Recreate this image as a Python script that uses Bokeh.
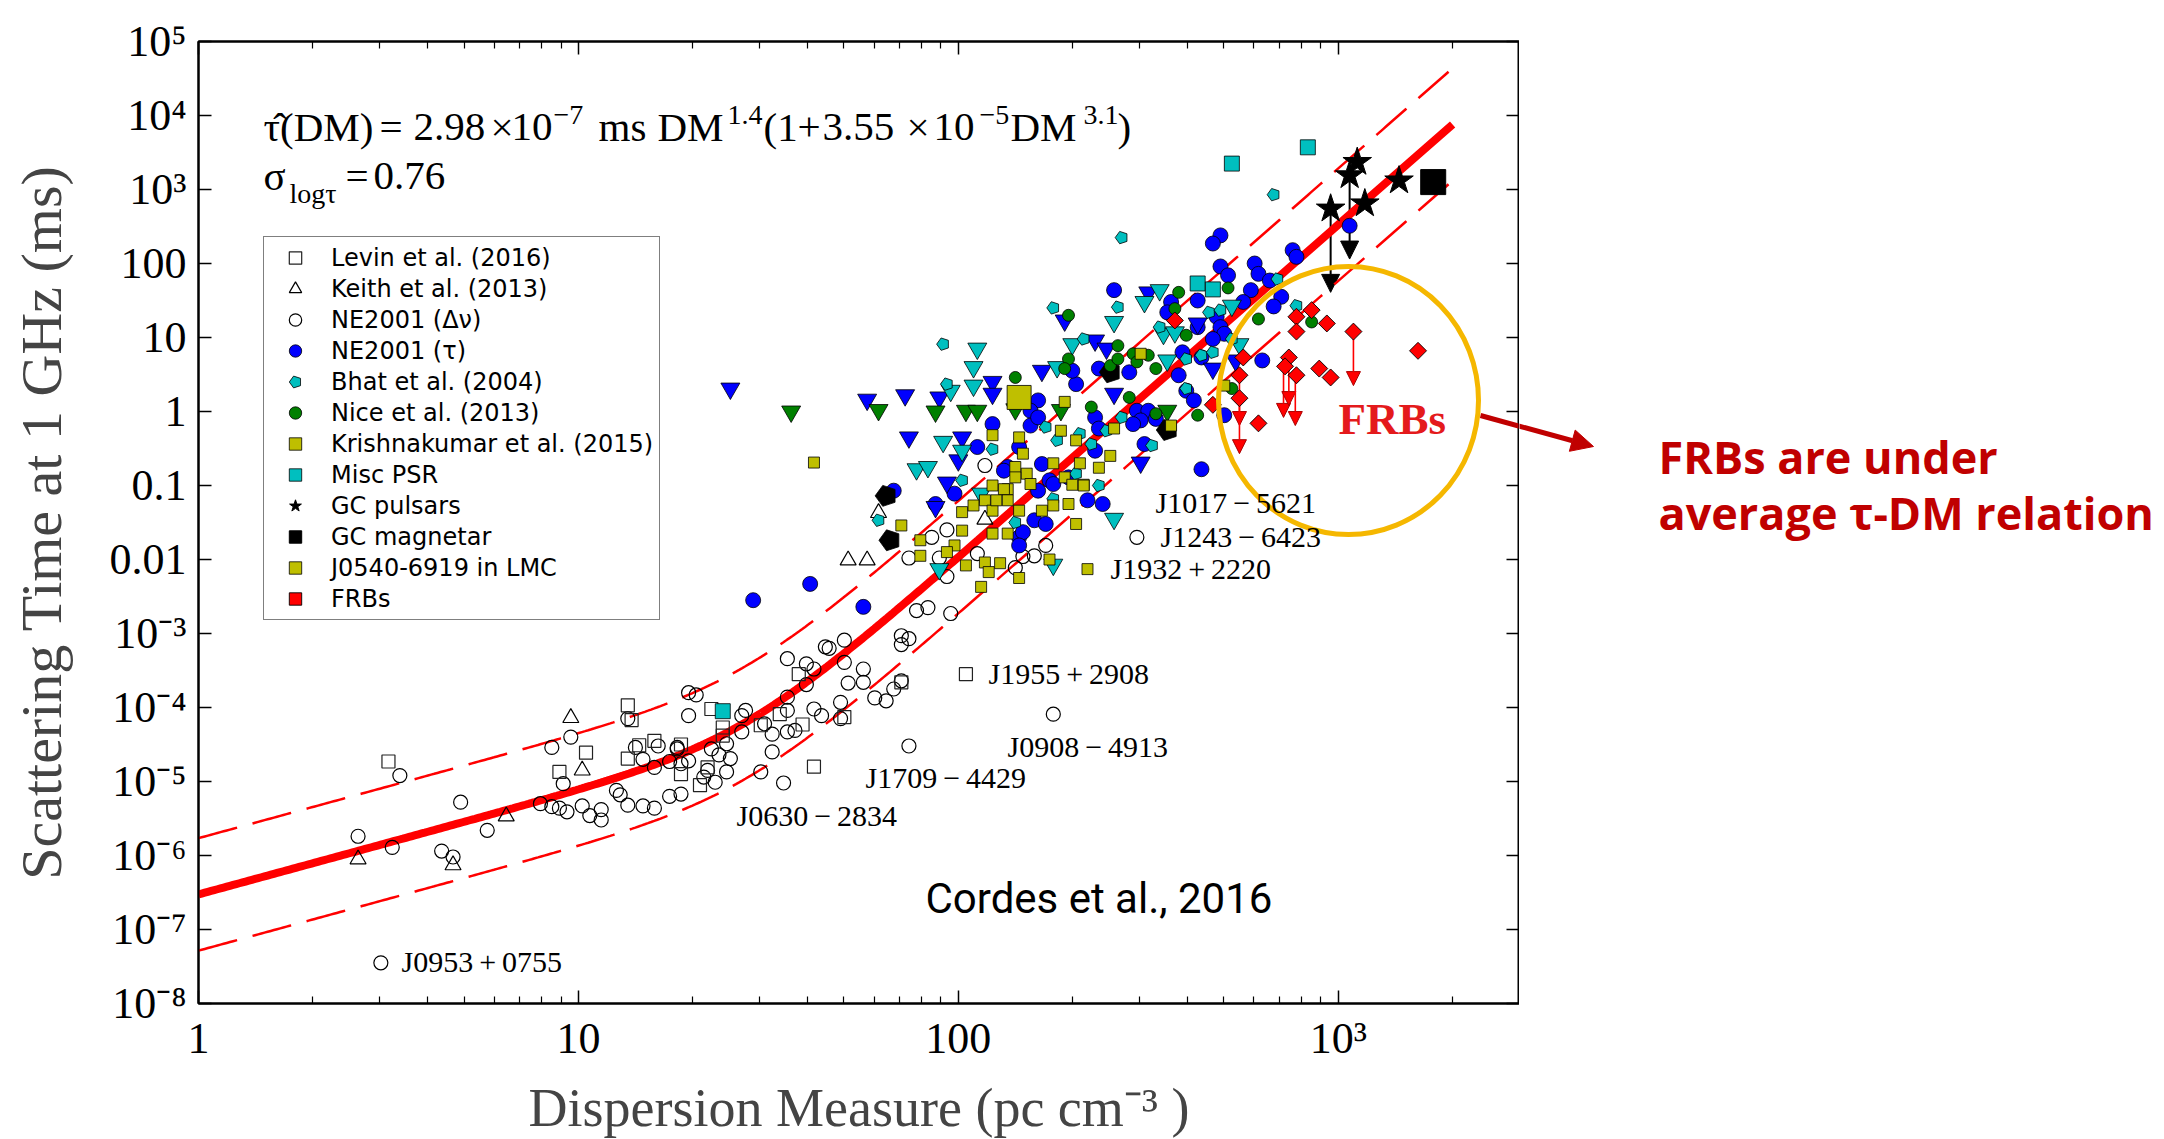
import json
import numpy as np
from bokeh.plotting import figure
from bokeh.layouts import row
from bokeh.models import (Range1d, FixedTicker, LogAxis, CustomJSTickFormatter, Legend,
                          LegendItem, Label, Arrow, NormalHead, ColumnDataSource)
from bokeh.embed import file_html
from bokeh.resources import INLINE

# ---------------- data: log10(DM / pc cm^-3), log10(tau_1GHz / ms) -------------
dnu_logdm = [0.42, 0.51, 0.53, 0.64, 0.67, 0.69, 0.76, 0.48,
             0.90, 0.93, 0.93, 0.95, 0.96, 0.97, 0.98, 1.01, 1.03, 1.06, 1.06, 1.10, 1.11, 1.13, 1.13, 1.15,
             1.17, 1.17, 1.20, 1.20, 1.21, 1.24, 1.24, 1.26, 1.27, 1.27, 1.29, 1.29, 1.31,
             1.26, 1.29, 1.35, 1.37, 1.34, 1.33, 1.36, 1.39, 1.40, 1.39, 1.43, 1.44, 1.43, 1.48, 1.49, 1.51,
             1.51, 1.54, 1.55, 1.55, 1.55, 1.55, 1.57, 1.60, 1.62, 1.60, 1.62, 1.64, 1.66, 1.70, 1.70, 1.71,
             1.69, 1.69, 1.75, 1.75, 1.78, 1.81, 1.83, 1.85, 1.85, 1.87, 1.85, 1.89, 1.92, 1.98, 1.87,
             1.97, 1.93, 1.87, 1.95, 2.05, 1.97, 2.17, 2.20, 2.23, 2.15, 1.65, 2.25, 2.47, 2.07]
dnu_logtau = [-5.74, -5.89, -4.92, -5.94, -6.02, -5.28, -5.66, -7.45,
              -5.30, -4.54, -5.34, -5.36, -5.03, -5.41, -4.40, -5.33, -5.46, -5.38, -5.52, -5.12, -5.18, -5.32,
              -4.15, -4.54, -5.33, -4.70, -4.81, -5.36, -4.52, -4.73, -5.20, -4.56, -5.17, -4.76, -4.11, -3.80,
              -3.83,
              -4.54, -4.72, -4.56, -4.64, -4.85, -4.94, -5.01, -4.49, -4.69, -4.87, -4.11, -4.04, -4.33, -4.87,
              -4.22, -4.60, -4.36, -5.02, -3.34, -3.86, -4.04, -4.33, -4.31, -3.41, -3.48, -3.69, -4.02, -4.11,
              -3.20, -3.09, -3.39, -3.67, -3.93, -4.15, -3.48, -3.66, -3.87, -3.91, -3.75, -3.64, -3.03, -3.07,
              -3.15, -2.69, -2.65, -2.73, -4.52,
              -1.60, -1.70, -1.98, -1.98, -1.92, -2.23, -1.96, -1.95, -1.81, -2.11, -3.18, -4.09, -1.70, -0.73]

levin_logdm = [0.50, 0.95, 1.02, 1.13, 1.14, 1.16, 1.13, 1.20, 1.27, 1.27, 1.32, 1.34, 1.38, 1.35, 1.38,
               1.53, 1.48, 1.59, 1.58, 1.70, 1.85, 1.62, 2.02]
levin_logtau = [-4.73, -4.87, -4.61, -3.97, -4.17, -4.51, -4.69, -4.45, -4.50, -4.90, -5.05, -4.81, -4.38,
                -4.02, -4.27, -4.09, -4.24, -4.23, -3.55, -4.13, -3.66, -4.80, -3.55]

keith_logdm = [0.42, 0.67, 0.81, 0.98, 1.01, 1.71, 1.76, 1.79, 2.07]
keith_logtau = [-6.05, -6.13, -5.47, -4.14, -4.85, -2.01, -2.01, -1.37, -1.46]

tau_logdm = [2.69, 2.67, 2.41, 2.69, 2.71, 2.78, 2.79, 2.82, 2.85, 2.88, 2.89, 2.77, 2.75, 2.83, 2.56, 2.63,
             2.55, 2.68, 2.69, 2.70, 2.63, 2.67, 2.59, 2.64, 2.80, 2.58, 2.45, 2.37, 2.31, 2.30, 2.60, 2.62,
             2.47, 2.50, 2.48, 2.52, 2.46, 2.49, 2.64, 2.70, 2.36, 2.37, 2.21, 2.19, 2.19, 2.21, 2.09, 2.05,
             1.99, 2.13, 2.12, 2.22, 2.24, 2.21, 2.29, 2.36, 2.16, 1.83,
             1.94, 2.16, 2.17, 2.20, 2.23, 2.25, 2.34, 2.38, 2.16, 1.46, 1.61, 1.75, 3.03]
tau_logtau = [2.38, 2.27, 1.64, 1.96, 1.84, 2.00, 1.86, 1.77, 1.55, 2.18, 2.09, 1.64, 1.48, 1.42, 1.48, 1.50,
              1.34, 1.28, 1.14, 1.05, 1.14, 0.98, 0.80, 0.73, 0.69, 0.49, 0.53, 0.58, 0.37, 0.55, 0.28, 0.15,
              0.01, 0.01, -0.12, -0.10, -0.17, -0.44, -0.78, -0.05, -0.08, -0.23, 0.15, 0.01, -0.19, -0.08,
              -0.17, -0.48, -1.11, -0.75, -0.80, -0.71, -0.93, -1.07, -0.89, -0.53, -0.48, -1.07,
              -1.25, -1.70, -1.63, -1.47, -1.52, -0.98, -1.20, -1.25, -1.81, -2.55, -2.33, -2.64, 2.51]

tau_ul_logdm = [1.40, 1.76, 1.86, 1.95, 2.09, 2.09, 2.22, 1.87, 2.01, 2.00, 1.97, 2.36, 2.39, 2.41, 2.48,
                2.50, 2.63, 2.73, 2.28, 2.67, 1.94]
tau_ul_logtau = [0.31, 0.16, 0.22, 0.19, 0.40, 0.24, 0.55, -0.35, -0.35, -0.66, -0.96, 0.96, 0.85, 0.24,
                 -0.69, 1.61, 1.19, 0.69, 1.23, 0.58, -1.29]

nice_ul_logdm = [1.56, 1.79, 1.94, 2.02, 2.05, 2.15, 2.27, 2.55]
nice_ul_logtau = [0.00, 0.02, 0.00, 0.01, 0.01, 0.03, 0.02, 0.01]

bhat_ul_logdm = [2.05, 2.04, 2.04, 1.98, 2.41, 2.49, 2.53, 2.30, 2.26, 1.96, 2.01, 1.89, 1.92, 2.55, 2.54,
                 2.57, 2.72, 2.74, 2.06, 1.95, 2.41, 2.25]
bhat_ul_logtau = [0.85, 0.60, 0.35, 0.28, 1.21, 1.48, 1.64, 0.91, 0.60, -0.41, -0.53, -0.78, -0.75, 0.69,
                  1.05, 1.07, 1.43, 0.91, -1.11, -2.13, -1.45, -2.07]

bhat_logdm = [2.83, 2.43, 2.25, 2.42, 1.96, 1.97, 2.33, 2.84, 2.53, 2.66, 2.69, 2.72, 2.60, 2.64, 2.67, 2.60,
              2.43, 2.51, 2.39, 2.23, 2.26, 2.32, 2.35, 2.31, 2.37, 2.09, 2.01, 1.79, 2.15, 2.25, 2.89]
bhat_logtau = [2.93, 2.35, 1.40, 1.41, 0.91, 0.37, 0.98, 1.79, 1.14, 1.34, 1.37, 0.98, 0.71, 0.76, 0.80, 0.31,
               -0.08, -0.46, -0.26, -0.21, -0.39, -0.30, -0.44, -0.84, -1.00, -0.51, -0.93, -1.47, -1.50,
               -1.18, 1.43]

nice_logdm = [2.58, 2.71, 2.29, 2.57, 2.60, 2.42, 2.46, 2.50, 2.29, 2.40, 2.42, 2.47, 2.52, 2.15, 2.28, 2.45,
              2.35, 2.63, 2.72, 2.79, 2.52, 2.93]
nice_logtau = [1.61, 1.67, 1.30, 1.39, 1.03, 0.89, 0.78, 0.76, 0.71, 0.62, 0.71, 0.67, 0.58, 0.46, 0.58, 0.19,
               0.06, -0.05, 0.31, 1.25, -0.03, 1.21]

krish_logdm = [1.62, 2.48, 2.28, 2.41, 2.56, 2.09, 2.16, 2.27, 2.31, 2.17, 2.25, 2.32, 2.37, 2.40, 2.15, 2.18,
               2.28, 2.09, 2.13, 2.33, 2.30, 2.70, 1.85, 1.90, 1.90, 1.99, 1.97, 2.01, 2.01, 2.04, 2.07, 2.09,
               2.12, 2.13, 2.16, 2.19, 2.22, 2.25, 2.29, 2.33, 2.31, 2.13, 2.09, 2.02, 2.07, 2.08, 2.11, 2.16,
               2.06, 2.24, 2.34, 2.10, 2.15]
krish_logtau = [-0.69, 0.78, 0.13, -0.23, -0.19, -0.32, -0.35, -0.26, -0.39, -0.57, -0.70, -0.70, -0.76, -0.60,
                -0.75, -0.84, -0.89, -1.00, -1.05, -0.99, -0.99, 0.35, -1.54, -1.74, -1.95, -1.81, -1.90, -1.61,
                -1.36, -1.27, -1.20, -1.34, -1.05, -1.20, -1.34, -0.98, -1.34, -1.27, -1.25, -1.00, -1.52,
                -1.65, -1.65, -2.08, -2.04, -2.17, -2.05, -2.25, -2.37, -2.00, -2.13, -1.20, -0.89]

misc_logdm = [1.38, 2.72, 2.92, 2.63, 2.67]
misc_logtau = [-4.05, 3.35, 3.57, 1.73, 1.65]

gcpsr_logdm = [2.98, 3.03, 3.05, 3.07, 3.16]
gcpsr_logtau = [2.74, 3.19, 3.37, 2.81, 3.12]

magnetar_logdm = [3.25]
magnetar_logtau = [3.10]

lmc_logdm = [2.16]
lmc_logtau = [0.19]

blackpent_logdm = [1.81, 1.82, 2.40, 2.55]
blackpent_logtau = [-1.14, -1.74, 0.53, -0.25]

frb_logdm = [2.57, 2.89, 2.93, 2.97, 2.89, 3.04, 3.21, 2.75, 2.74, 2.74, 2.79, 2.87, 2.86, 2.89, 2.95, 2.98, 2.67]
frb_logtau = [1.23, 1.28, 1.37, 1.19, 1.08, 1.08, 0.82, 0.73, 0.49, 0.18, -0.16, 0.73, 0.61, 0.49, 0.58, 0.46, 0.09]

# upper-limit arrows (log DM, log tau start, log tau end)
gc_arrow_logdm = [2.98, 3.03]
gc_arrow_from = [2.74, 3.19]
gc_arrow_to = [1.61, 2.06]
frb_arrow_logdm = [2.74, 2.74, 2.856, 2.87, 2.887, 3.04]
frb_arrow_from = [0.49, 0.18, 0.61, 0.73, 0.49, 1.08]
frb_arrow_to = [-0.19, -0.57, -0.08, 0.08, -0.19, 0.35]

# fitted relation (from the equation printed on the chart)
FIT_A, FIT_P, FIT_B, FIT_Q = 2.98e-7, 1.4, 3.55e-5, 3.1
FIT_SIGMA = 0.76
FIT_DM_MAX = 2000.0

x_ticks = [1, 10, 100, 1000]
x_tick_labels = ["1", "10", "100", "10³"]
x_minor = [m * d for d in (1, 10, 100) for m in range(2, 10)] + [2000]
y_ticks = [10.0 ** k for k in range(-8, 6)]
y_tick_labels = ["10⁻⁸", "10⁻⁷", "10⁻⁶", "10⁻⁵", "10⁻⁴", "10⁻³", "0.01", "0.1", "1", "10", "100",
                 "10³", "10⁴", "10⁵"]

pulsar_names = ["J0953+0755", "J0630−2834", "J1709−4429", "J0908−4913", "J1955+2908",
                "J1932+2220", "J1243−6423", "J1017−5621"]

legend_labels = ["Levin et al. (2016)", "Keith et al. (2013)", "NE2001 (Δν)", "NE2001 (τ)",
                 "Bhat et al. (2004)", "Nice et al. (2013)", "Krishnakumar et al. (2015)", "Misc PSR",
                 "GC pulsars", "GC magnetar", "J0540-6919 in LMC", "FRBs"]

# ---------------- layout ----------------
PAGE_W = 2164
FL, FT, FW, FH = 198, 41, 1321, 962          # frame position on the page (px)
BOTTOM = 150
CANVAS_H = FT + FH + BOTTOM
XMIN, XMAX, YMIN, YMAX = 1.0, 3000.0, 1e-8, 1e5


def dx(X):
    return 10 ** (np.log10(XMIN) + (X - FL) / FW * (np.log10(XMAX) - np.log10(XMIN)))


def dy(Y):
    return 10 ** (np.log10(YMAX) - (Y - FT) / FH * (np.log10(YMAX) - np.log10(YMIN)))


def lin(a):
    return 10 ** np.asarray(a, dtype=float)


SERIF = "Liberation Serif"
BLUE, CYAN, GREEN, YEL, RED = "#0000ff", "#00bfbf", "#008000", "#bfbf00", "#ff0000"
CALLOUT = "#c00000"

p = figure(frame_width=FW, frame_height=FH, x_axis_type="log", y_axis_type="log",
           x_range=Range1d(XMIN, XMAX), y_range=Range1d(YMIN, YMAX),
           output_backend="svg", toolbar_location=None,
           min_border_left=FL, min_border_top=FT, min_border_right=0, min_border_bottom=BOTTOM,
           background_fill_color="white", border_fill_color="white",
           outline_line_color="black", outline_line_width=2)
p.xgrid.visible = False
p.ygrid.visible = False

xfmt = CustomJSTickFormatter(code="const L = %s; return L[Math.round(Math.log10(tick))];"
                             % json.dumps(x_tick_labels))
yfmt = CustomJSTickFormatter(code="const L = %s; return L[Math.round(Math.log10(tick)) + 8];"
                             % json.dumps(y_tick_labels))


def style_axis(ax, labels=True):
    ax.axis_line_width = 2
    ax.axis_line_color = "black"
    ax.major_tick_in = 13
    ax.major_tick_out = 0
    ax.minor_tick_in = 7
    ax.minor_tick_out = 0
    ax.major_tick_line_width = 1.5
    ax.minor_tick_line_width = 1.2
    ax.major_label_text_font = SERIF
    if labels:
        ax.major_label_text_color = "black"
        ax.major_label_text_font_size = "44px"
    else:
        ax.major_label_text_color = None
        ax.major_label_text_font_size = "0px"
        ax.major_label_standoff = 0


xa = p.xaxis[0]
xa.ticker = FixedTicker(ticks=x_ticks, minor_ticks=x_minor)
xa.formatter = xfmt
style_axis(xa)
xa.major_label_standoff = 10
xa.axis_label = "Dispersion Measure (pc cm⁻³ )"
xa.axis_label_text_font = SERIF
xa.axis_label_text_font_style = "normal"
xa.axis_label_text_font_size = "54px"
xa.axis_label_standoff = 12

ya = p.yaxis[0]
ya.ticker = FixedTicker(ticks=y_ticks, minor_ticks=[])
ya.formatter = yfmt
style_axis(ya)
ya.major_label_standoff = 12
ya.axis_label = "Scattering Time at 1 GHz (ms)"
ya.axis_label_text_font = SERIF
ya.axis_label_text_font_style = "normal"
ya.axis_label_text_font_size = "58px"
ya.axis_label_standoff = 33

top = LogAxis(ticker=FixedTicker(ticks=x_ticks, minor_ticks=x_minor), formatter=xfmt)
style_axis(top, labels=False)
p.add_layout(top, "above")
right = LogAxis(ticker=FixedTicker(ticks=y_ticks, minor_ticks=[]), formatter=yfmt)
style_axis(right, labels=False)
p.add_layout(right, "right")

# ---------------- fitted relation ----------------
fit_dm = np.logspace(0, np.log10(FIT_DM_MAX), 400)
fit_tau = FIT_A * fit_dm ** FIT_P * (1 + FIT_B * fit_dm ** FIT_Q)
p.line(fit_dm, fit_tau * 10 ** FIT_SIGMA, line_color=RED, line_width=2.5, line_dash="40 16")
p.line(fit_dm, fit_tau * 10 ** (-FIT_SIGMA), line_color=RED, line_width=2.5, line_dash="40 16")
p.line(fit_dm, fit_tau, line_color=RED, line_width=8)

# ---------------- arrows for upper limits ----------------
p.add_layout(Arrow(end=NormalHead(size=18, fill_color="black", line_color="black"),
                   source=ColumnDataSource(dict(x=lin(gc_arrow_logdm), y0=lin(gc_arrow_from),
                                                y1=lin(gc_arrow_to))),
                   x_start="x", y_start="y0", x_end="x", y_end="y1",
                   line_color="black", line_width=2, level="underlay"))
p.add_layout(Arrow(end=NormalHead(size=14, fill_color=RED, line_color="#aa0000", line_width=1),
                   source=ColumnDataSource(dict(x=lin(frb_arrow_logdm), y0=lin(frb_arrow_from),
                                                y1=lin(frb_arrow_to))),
                   x_start="x", y_start="y0", x_end="x", y_end="y1",
                   line_color=RED, line_width=1.6, level="underlay"))

# ---------------- markers ----------------
r_dnu = p.scatter(lin(dnu_logdm), lin(dnu_logtau), marker="circle", size=14,
                  fill_color=None, line_color="black", line_width=1.2)
r_levin = p.scatter(lin(levin_logdm), lin(levin_logtau), marker="square", size=13,
                    fill_color=None, line_color="#222222", line_width=1.2)
r_keith = p.scatter(lin(keith_logdm), lin(keith_logtau), marker="triangle", size=16,
                    fill_color=None, line_color="black", line_width=1.2)
r_tau = p.scatter(lin(tau_logdm), lin(tau_logtau), marker="circle", size=15,
                  fill_color=BLUE, line_color="black", line_width=0.8)
p.scatter(lin(tau_ul_logdm), lin(tau_ul_logtau), marker="inverted_triangle", size=19,
          fill_color=BLUE, line_color="black", line_width=0.8)
p.scatter(lin(nice_ul_logdm), lin(nice_ul_logtau), marker="inverted_triangle", size=19,
          fill_color=GREEN, line_color="black", line_width=0.8)
p.scatter(lin(bhat_ul_logdm), lin(bhat_ul_logtau), marker="inverted_triangle", size=19,
          fill_color=CYAN, line_color="black", line_width=0.8)

try:
    r_bhat = p.ngon(lin(bhat_logdm), lin(bhat_logtau), radius=6.5, radius_units="screen", n=5,
                    angle=np.pi / 2, fill_color=CYAN, line_color="black", line_width=0.8)
    p.ngon(lin(blackpent_logdm), lin(blackpent_logtau), radius=11, radius_units="screen", n=5,
           angle=np.pi / 2, fill_color="black", line_color="black", line_width=0.8)
except Exception:
    r_bhat = p.scatter(lin(bhat_logdm), lin(bhat_logtau), marker="hex", size=12,
                       fill_color=CYAN, line_color="black", line_width=0.8)
    p.scatter(lin(blackpent_logdm), lin(blackpent_logtau), marker="hex", size=20,
              fill_color="black", line_color="black")

r_nice = p.scatter(lin(nice_logdm), lin(nice_logtau), marker="circle", size=12,
                   fill_color=GREEN, line_color="black", line_width=0.8)
r_krish = p.scatter(lin(krish_logdm), lin(krish_logtau), marker="square", size=11,
                    fill_color=YEL, line_color="black", line_width=0.8)
r_misc = p.scatter(lin(misc_logdm), lin(misc_logtau), marker="square", size=15,
                   fill_color=CYAN, line_color="black", line_width=0.8)
r_lmc = p.scatter(lin(lmc_logdm), lin(lmc_logtau), marker="square", size=24,
                  fill_color=YEL, line_color="black", line_width=0.8)
r_frb = p.scatter(lin(frb_logdm), lin(frb_logtau), marker="square", size=12, angle=np.pi / 4,
                  fill_color=RED, line_color="black", line_width=0.9)
r_gc = p.scatter(lin(gcpsr_logdm), lin(gcpsr_logtau), marker="star", size=30,
                 fill_color="black", line_color="black")
r_mag = p.scatter(lin(magnetar_logdm), lin(magnetar_logtau), marker="square", size=25,
                  fill_color="black", line_color="black")

# highlight ellipse around FRBs and the start of the call-out arrow (inside the frame)
p.ellipse(x=[dx(1348)], y=[dy(400)], width=260, height=268, width_units="screen",
          height_units="screen", fill_color=None, line_color="#f5b700", line_width=5)
ARR_X0, ARR_Y0, ARR_X1, ARR_Y1 = 1480, 415, 1593, 446
p.segment(x0=[dx(ARR_X0)], y0=[dy(ARR_Y0)], x1=[dx(ARR_X1)], y1=[dy(ARR_Y1)],
          line_color=CALLOUT, line_width=5)

# ---------------- legend ----------------
legend_renderers = [r_levin, r_keith, r_dnu, r_tau, r_bhat, r_nice, r_krish, r_misc,
                    r_gc, r_mag, r_lmc, r_frb]
legend = Legend(items=[LegendItem(label=l, renderers=[r]) for l, r in zip(legend_labels, legend_renderers)],
                location=(263 - FL, (FT + FH) - 620), margin=0,
                label_text_font="DejaVu Sans", label_text_font_size="24px", label_text_color="black",
                glyph_width=52, glyph_height=31, label_height=31, spacing=0, padding=5,
                label_standoff=10, label_width=323,
                border_line_color="black", border_line_width=1.6,
                background_fill_color="white", background_fill_alpha=1.0)
p.add_layout(legend)

# ---------------- texts in the plot (positions are page pixels of the text centre line) ----------
def add_text(fig, conv_x, conv_y, txt, X, Y, size, font=SERIF, color="black", style="normal"):
    fig.add_layout(Label(x=conv_x(X), y=conv_y(Y), text=txt, text_font=font,
                         text_font_size="%dpx" % size, text_color=color, text_font_style=style,
                         text_baseline="middle", text_align="left"))


EQ, SUP = 41, 28
EQ_Y, SUP_Y = 126, 114
for txt, X, Y, s in [("τ̂(DM)", 263, EQ_Y, EQ), ("=", 379, EQ_Y, EQ), ("2.98", 413, EQ_Y, EQ),
                     ("×", 490, EQ_Y, EQ), ("10", 511, EQ_Y, EQ), ("−7", 553, SUP_Y, SUP),
                     ("ms", 598, EQ_Y, EQ), ("DM", 657, EQ_Y, EQ), ("1.4", 727, SUP_Y, SUP),
                     ("(1", 763, EQ_Y, EQ), ("+", 797, EQ_Y, EQ), ("3.55", 822, EQ_Y, EQ),
                     ("×", 906, EQ_Y, EQ), ("10", 933, EQ_Y, EQ), ("−5", 979, SUP_Y, SUP),
                     ("DM", 1010, EQ_Y, EQ), ("3.1", 1083, SUP_Y, SUP), (")", 1117, EQ_Y, EQ),
                     ("σ", 263, 175, EQ), ("logτ", 289, 193, SUP), ("=", 345, 175, EQ),
                     ("0.76", 373, 175, EQ)]:
    add_text(p, dx, dy, txt, X, Y, s)

for name, X, Y in zip(pulsar_names, [401, 736, 865, 1007, 988, 1110, 1160, 1155],
                      [961, 815, 777, 746, 673, 568, 536, 502]):
    add_text(p, dx, dy, name.replace("+", "\u2009+\u2009").replace("−", "\u2009−\u2009"), X, Y, 30)

add_text(p, dx, dy, "FRBs", 1338, 418, 45, color="#e41a1c", style="bold")
add_text(p, dx, dy, "Cordes et al., 2016", 925, 898, 42, font="Roboto")

# ---------------- right-hand call-out panel (its frame is aligned with the main frame) -------------
Q_X0 = FL + FW
q = figure(width=PAGE_W - Q_X0, height=CANVAS_H, x_range=Range1d(Q_X0, PAGE_W),
           y_range=Range1d(FT + FH, FT), output_backend="svg", toolbar_location=None,
           min_border=0, x_axis_location=None, y_axis_location=None,
           outline_line_color=None, background_fill_color="white", border_fill_color="white")
q.grid.visible = False


def ident(v):
    return v


add_text(q, ident, ident, "FRBs are under", 1658, 456, 45, font="Open Sans", color=CALLOUT, style="bold")
add_text(q, ident, ident, "average τ-DM relation", 1658, 512, 45, font="Open Sans", color=CALLOUT,
         style="bold")
q.add_layout(Arrow(x_start=ARR_X0, y_start=ARR_Y0, x_end=ARR_X1, y_end=ARR_Y1,
                   line_color=CALLOUT, line_width=5,
                   end=NormalHead(size=22, fill_color=CALLOUT, line_color=CALLOUT)))

layout = row(p, q, spacing=0)
html = file_html(layout, INLINE)
html = html.replace("</head>", "<style>html, body {overflow: hidden;}</style></head>", 1)
open("out.html", "w").write(html)
